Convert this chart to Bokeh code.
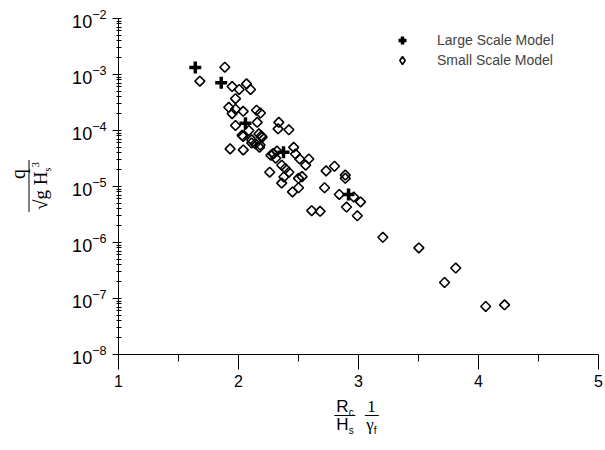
import numpy as np
from bokeh.plotting import figure
from bokeh.layouts import column, row
from bokeh.models import FixedTicker, Legend, LegendItem, Div
from bokeh.embed import file_html
from bokeh.resources import INLINE

# Large scale model
large_x = [1.64, 1.856, 2.058, 2.375, 2.917]
large_y = [1.33e-3, 7.1e-4, 1.35e-4, 4.1e-5, 7.2e-6]

# Small scale model
small_x = [1.886, 1.678, 1.947, 2.006, 2.067, 2.10, 1.975, 1.919, 1.975, 2.039,
           1.947, 2.15, 2.183, 1.975, 2.156, 2.336, 2.33, 2.42, 2.086, 2.039,
           2.17, 2.197, 2.11, 2.14, 2.175, 1.93, 2.04, 2.27, 2.29, 2.31,
           2.46, 2.475, 2.51, 2.586, 2.56, 2.36, 2.39, 2.42, 2.26, 2.378,
           2.50, 2.53, 2.36, 2.45, 2.50, 2.73, 2.80, 2.717, 2.89, 2.89,
           2.84, 2.96, 3.017, 2.68, 2.61, 2.90, 2.99, 3.203, 3.503, 3.81,
           3.717, 4.06, 4.217, 2.11, 2.18, 2.19, 2.03, 2.29, 2.32]
small_y = [1.35e-3, 7.6e-4, 6.1e-4, 5.4e-4, 6.8e-4, 5.4e-4, 3.7e-4, 2.6e-4, 2.4e-4, 2.2e-4,
           2.0e-4, 2.3e-4, 2.05e-4, 1.23e-4, 1.4e-4, 1.4e-4, 1.07e-4, 1.03e-4, 1.0e-4, 7.8e-5,
           8.7e-5, 7.6e-5, 6.8e-5, 5.8e-5, 5.0e-5, 4.7e-5, 4.5e-5, 3.6e-5, 3.8e-5, 3.2e-5,
           5.0e-5, 3.8e-5, 3.1e-5, 3.1e-5, 2.4e-5, 2.4e-5, 2.1e-5, 1.8e-5, 1.8e-5, 1.48e-5,
           1.4e-5, 1.5e-5, 1.15e-5, 8.0e-6, 9.5e-6, 1.9e-5, 2.3e-5, 9.5e-6, 1.6e-5, 1.4e-5,
           7.2e-6, 6.5e-6, 5.3e-6, 3.6e-6, 3.7e-6, 4.3e-6, 3.0e-6, 1.24e-6, 8.0e-7, 3.5e-7,
           1.93e-7, 7.2e-8, 7.7e-8, 6.0e-5, 5.5e-5, 8.0e-5, 8.2e-5, 3.9e-5, 4.3e-5]

x_ticks = [1, 2, 3, 4, 5]
x_minor = [1.5, 2.5, 3.5, 4.5]
y_ticks = [1e-8, 1e-7, 1e-6, 1e-5, 1e-4, 1e-3, 1e-2]
y_minor = [k * 10.0 ** e for e in range(-8, -2) for k in range(2, 10)]

YW = 55    # width of the y-label strip
XH = 55    # height of the x-label strip

p = figure(width=605 - YW, height=450 - XH, y_axis_type="log", x_range=(1, 5), y_range=(1e-8, 1e-2),
           output_backend="svg", toolbar_location=None,
           min_border_left=118 - YW, min_border_right=7, min_border_top=18,
           min_border_bottom=450 - XH - 354)
p.outline_line_color = None
p.xgrid.visible = False
p.ygrid.visible = False

p.xaxis.ticker = FixedTicker(ticks=x_ticks, minor_ticks=x_minor)
p.yaxis.ticker = FixedTicker(ticks=y_ticks, minor_ticks=y_minor)

for ax in (p.xaxis, p.yaxis):
    ax.axis_line_color = "black"
    ax.major_tick_line_color = "black"
    ax.minor_tick_line_color = "black"
    ax.major_label_text_color = "black"
    ax.major_label_text_font = "Liberation Sans"
    ax.major_label_text_font_style = "normal"

p.xaxis.major_tick_out = 15
p.xaxis.major_tick_in = 0
p.xaxis.minor_tick_out = 7
p.xaxis.minor_tick_in = 0
p.xaxis.major_label_text_font_size = "16px"
p.xaxis.major_label_standoff = 5

p.yaxis.major_tick_out = 6
p.yaxis.major_tick_in = 3
p.yaxis.minor_tick_out = 2
p.yaxis.minor_tick_in = 3
p.yaxis.major_label_text_font_size = "18px"
p.yaxis.major_label_standoff = 6

r_small = p.scatter(small_x, small_y, marker="square", angle=np.pi / 4, size=7,
                    fill_color=None, line_color="black", line_width=1.6)
r_large = p.scatter(large_x, large_y, marker="cross", size=12,
                    line_color="black", line_width=3.5)
# legend key proxy (a single NaN point, never drawn in the plot)
r_small_key = p.scatter([np.nan], [np.nan], marker="diamond", size=12,
                        fill_color=None, line_color="black", line_width=1.6)

legend = Legend(items=[LegendItem(label="Large Scale Model", renderers=[r_large]),
                       LegendItem(label="Small Scale Model", renderers=[r_small_key])],
                location=(274, 284), border_line_color=None, background_fill_alpha=0,
                label_text_font="Liberation Sans", label_text_font_size="14px",
                glyph_width=20, glyph_height=20, label_standoff=25, spacing=0,
                padding=10, margin=0)
p.add_layout(legend, "center")

SUB = "font-size:10px;vertical-align:-4px;line-height:0;"
SUP = "font-size:11px;vertical-align:8px;line-height:0;"

frac1 = (
    '<div style="position:absolute;left:345px;top:3px;transform:translateX(-50%);'
    'font-family:\'Liberation Sans\';font-size:17px;color:#000;text-align:center;white-space:nowrap;">'
    f'<div style="line-height:17px;padding:0 2px;border-bottom:1.3px solid #000;">R<span style="{SUB}">c</span></div>'
    f'<div style="line-height:18px;padding:0 2px;">H<span style="{SUB}">s</span></div>'
    '</div>'
)
frac2 = (
    '<div style="position:absolute;left:371.5px;top:3px;transform:translateX(-50%);'
    'font-family:\'Liberation Serif\';font-size:17px;color:#000;text-align:center;white-space:nowrap;">'
    '<div style="line-height:17px;padding:0 2px;border-bottom:1.3px solid #000;">1</div>'
    f'<div style="line-height:18px;padding:0 2px;">\u03b3<span style="{SUB}font-family:\'Liberation Sans\';">f</span></div>'
    '</div>'
)
xdiv = Div(text=f'<div style="position:relative;width:605px;height:{XH}px;">{frac1}{frac2}</div>',
           width=605, height=XH, margin=0)

yfrac = (
    '<div style="position:absolute;left:29px;top:186px;transform:translate(-50%,-50%) rotate(-90deg);'
    'font-family:\'Liberation Serif\';color:#000;text-align:center;white-space:nowrap;">'
    '<div style="font-size:20px;line-height:21px;padding:0 0 0 24px;border-bottom:1.3px solid #000;">q</div>'
    f'<div style="font-size:19px;line-height:21px;padding:0 2px;">\u221ag H<span style="{SUB}">s</span>'
    f'<span style="{SUP}">3</span></div>'
    '</div>'
)
ydiv = Div(text=f'<div style="position:relative;width:{YW}px;height:{450 - XH}px;">{yfrac}</div>',
           width=YW, height=450 - XH, margin=0)

layout = column(row(ydiv, p, spacing=0), xdiv, spacing=0)

open("out.html", "w").write(file_html(layout, INLINE))
